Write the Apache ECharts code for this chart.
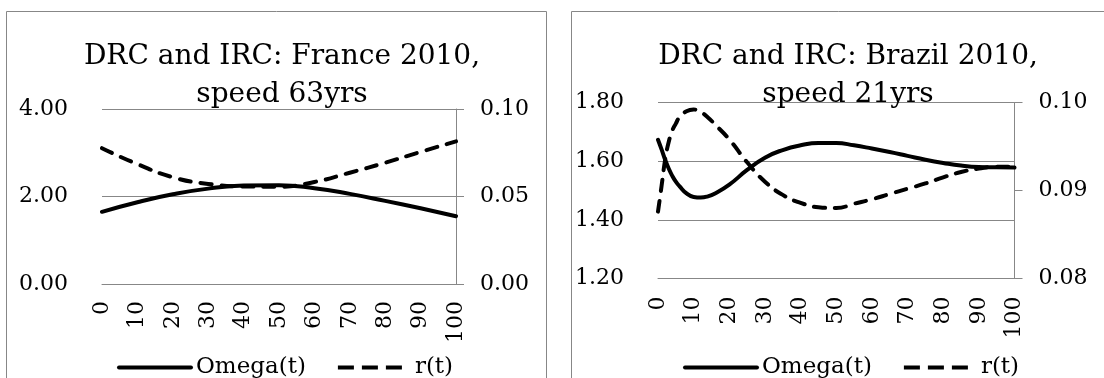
<!DOCTYPE html>
<html>
<head>
<meta charset="utf-8">
<style>
  html, body { margin: 0; padding: 0; background: #fff; }
  #chart { width: 1104px; height: 378px; }
</style>
<script src="https://cdn.jsdelivr.net/npm/echarts@6/dist/echarts.min.js"></script>
</head>
<body>
<div id="chart"></div>
<script>
// France 2010: time (years) and the two curves
const franceT = [0, 10, 20, 30, 40, 50, 60, 70, 80, 90, 100];
const franceOmega = [1.65, 1.87, 2.05, 2.18, 2.25, 2.26, 2.19, 2.06, 1.90, 1.73, 1.55];
const franceR = [0.0776, 0.0685, 0.0610, 0.0572, 0.0557, 0.0556, 0.0583, 0.0636, 0.0693, 0.0755, 0.0815];

// Brazil 2010: denser sampling near the start where the curves move fast
const brazilT = [0, 1, 2, 3, 4, 5, 6, 8, 10, 12, 14, 16, 20, 25, 30, 35, 40, 45, 50, 55, 60, 65, 70, 75, 80, 85, 90, 95, 100];
const brazilOmega = [1.673, 1.640, 1.605, 1.575, 1.550, 1.530, 1.515, 1.490, 1.478, 1.476, 1.480, 1.490, 1.520, 1.570, 1.612, 1.638, 1.654, 1.662, 1.662, 1.654, 1.643, 1.631, 1.618, 1.605, 1.594, 1.585, 1.580, 1.579, 1.578];
const brazilR = [0.0876, 0.0905, 0.0935, 0.0955, 0.0968, 0.0976, 0.0983, 0.0990, 0.0992, 0.0989, 0.0983, 0.0975, 0.0958, 0.0932, 0.0910, 0.0895, 0.0886, 0.0881, 0.0880, 0.0885, 0.0890, 0.0896, 0.0902, 0.0908, 0.0915, 0.0921, 0.0925, 0.0927, 0.0927];

const titles = ['DRC and IRC: France 2010,\nspeed 63yrs', 'DRC and IRC: Brazil 2010,\nspeed 21yrs'];
const seriesNames = ['Omega(t)', 'r(t)'];

const FONT = 'DejaVu Serif';
const GRAY = '#878787';
const DASH = [11, 10];
const fmt2 = v => v.toFixed(2);

function pairs(xs, ys) { return xs.map((x, i) => [x, ys[i]]); }

function xAxisFor(gridIndex, margin) {
  return {
    type: 'value', gridIndex, min: 0, max: 100, interval: 10,
    axisLine: { show: true, lineStyle: { color: GRAY, width: 1 } },
    axisTick: { show: false },
    splitLine: { show: false },
    axisLabel: { rotate: 90, margin, fontFamily: FONT, fontSize: 22, color: '#000' }
  };
}
function leftAxisFor(gridIndex, min, max, interval) {
  return {
    type: 'value', gridIndex, position: 'left', min, max, interval,
    axisLine: { show: false }, axisTick: { show: false },
    splitLine: { show: true, lineStyle: { color: GRAY, width: 1 } },
    axisLabel: { margin: 34, formatter: fmt2, fontFamily: FONT, fontSize: 22, color: '#000' }
  };
}
function rightAxisFor(gridIndex, min, max, interval) {
  return {
    type: 'value', gridIndex, position: 'right', min, max, interval,
    axisLine: { show: true, lineStyle: { color: GRAY, width: 1 } },
    axisTick: { show: true, inside: false, length: 8, lineStyle: { color: GRAY, width: 1 } },
    splitLine: { show: false },
    axisLabel: { margin: 24, formatter: fmt2, fontFamily: FONT, fontSize: 22, color: '#000' }
  };
}
function curve(name, xIdx, yIdx, data, dashed) {
  return {
    name, type: 'line', xAxisIndex: xIdx, yAxisIndex: yIdx, data,
    smooth: true, symbol: 'none', animation: false,
    lineStyle: {
      color: '#000', width: 4,
      type: dashed ? DASH : 'solid',
      cap: 'round', join: 'round'
    },
    itemStyle: { color: '#000' }
  };
}

const titleStyle = { fontFamily: FONT, fontSize: 28, fontWeight: 'normal', color: '#000', lineHeight: 38 };
const legendBase = {
  orient: 'horizontal', itemWidth: 72, itemHeight: 14, itemGap: 30,
  // line-only key: hide the marker the line legend puts in the middle
  itemStyle: { opacity: 0 },
  lineStyle: { width: 4, cap: 'round' },
  textStyle: { fontFamily: FONT, fontSize: 23, color: '#000' },
  data: [
    { name: seriesNames[0] },
    // three dashes that stop short of the label
    { name: seriesNames[1], lineStyle: { type: [16, 8], cap: 'butt' } }
  ]
};

const chart = echarts.init(document.getElementById('chart'), null, { renderer: 'canvas' });
chart.setOption({
  animation: false,
  backgroundColor: '#fff',
  graphic: [
    { type: 'rect', shape: { x: 6.5, y: 11.5, width: 540, height: 420 }, style: { fill: 'none', stroke: GRAY, lineWidth: 1 }, z: -1 },
    { type: 'rect', shape: { x: 571.5, y: 11.5, width: 600, height: 420 }, style: { fill: 'none', stroke: GRAY, lineWidth: 1 }, z: -1 }
  ],
  title: [
    { text: titles[0], left: 277, top: 33, textAlign: 'center', textStyle: titleStyle },
    { text: titles[1], left: 843, top: 33, textAlign: 'center', textStyle: titleStyle }
  ],
  legend: [
    Object.assign({ left: 112, top: 351 }, legendBase),
    Object.assign({ left: 678, top: 351 }, legendBase)
  ],
  grid: [
    { left: 102, right: 648, top: 109, height: 175, containLabel: false },
    { left: 658, right: 89.5, top: 102.5, height: 176, containLabel: false }
  ],
  xAxis: [xAxisFor(0, 17), xAxisFor(1, 18)],
  yAxis: [
    leftAxisFor(0, 0, 4, 2),
    rightAxisFor(0, 0, 0.1, 0.05),
    leftAxisFor(1, 1.2, 1.8, 0.2),
    rightAxisFor(1, 0.08, 0.1, 0.01)
  ],
  series: [
    curve(seriesNames[0], 0, 0, pairs(franceT, franceOmega), false),
    curve(seriesNames[1], 0, 1, pairs(franceT, franceR), true),
    curve(seriesNames[0], 1, 2, pairs(brazilT, brazilOmega), false),
    curve(seriesNames[1], 1, 3, pairs(brazilT, brazilR), true)
  ]
});
</script>
</body>
</html>
